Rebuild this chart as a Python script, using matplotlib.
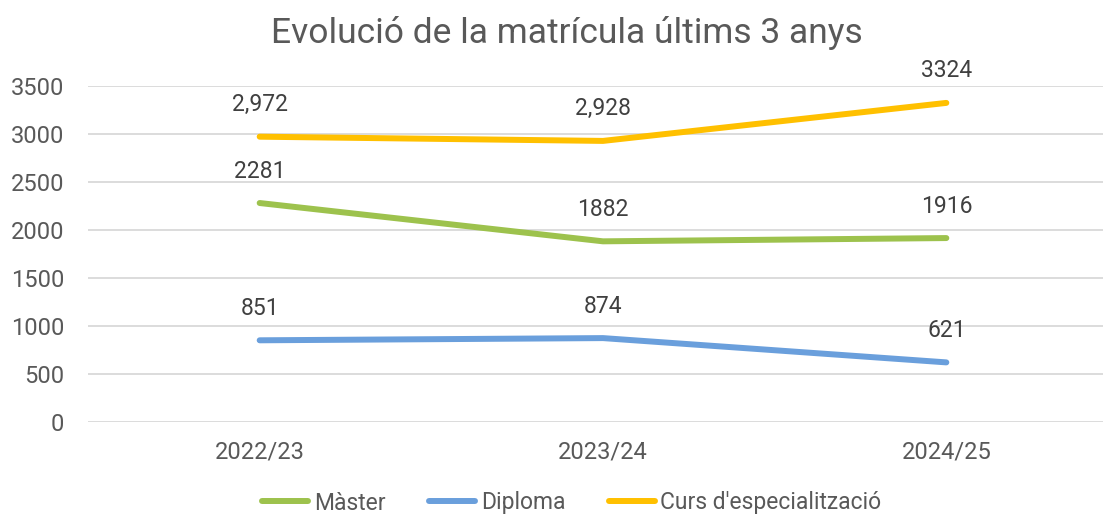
import matplotlib
matplotlib.use("Agg")
import matplotlib.pyplot as plt

# dades
cursos = ["2022/23", "2023/24", "2024/25"]
master = [2281, 1882, 1916]
diploma = [851, 874, 621]
especialitzacio = [2972, 2928, 3324]
etiquetes_master = ["2281", "1882", "1916"]
etiquetes_diploma = ["851", "874", "621"]
etiquetes_especialitzacio = ["2,972", "2,928", "3324"]
ticks_y = [0, 500, 1000, 1500, 2000, 2500, 3000, 3500]

plt.rcParams['font.family'] = ['Roboto', 'DejaVu Sans']
gris = '#595959'

fig = plt.figure(figsize=(11.03, 5.14), dpi=100)
ax = fig.add_axes([88 / 1103, 92 / 514, 1030 / 1103, 336 / 514])

x = list(range(len(cursos)))
series = [
    (master, etiquetes_master, '#9DC24D', 'Màster'),
    (diploma, etiquetes_diploma, '#6A9FDC', 'Diploma'),
    (especialitzacio, etiquetes_especialitzacio, '#FFC000', "Curs d'especialització"),
]
for valors, etiquetes, color, nom in series:
    ax.plot(x, valors, color=color, linewidth=4.3, solid_capstyle='round', label=nom, zorder=3)
    for xi, v, t in zip(x, valors, etiquetes):
        ax.annotate(t, (xi, v), xytext=(0, 23), textcoords='offset points',
                    ha='center', va='center', fontsize=16.5, color='#404040')

ax.set_xlim(-0.5, 2.5)
ax.set_ylim(0, 3500)
ax.set_xticks(x)
ax.set_xticklabels(cursos)
ax.set_yticks(ticks_y)
ax.tick_params(axis='both', length=0, labelsize=17, colors=gris)
ax.tick_params(axis='x', pad=13)
ax.tick_params(axis='y', pad=17)
ax.grid(axis='y', color='#D9D9D9', linewidth=1.3)
ax.set_axisbelow(True)
for s in ax.spines.values():
    s.set_visible(False)

fig.text(567 / 1103, 1 - 33 / 514, 'Evolució de la matrícula últims 3 anys',
         ha='center', va='center', fontsize=25.5, color=gris)

fig.legend(loc='center', bbox_to_anchor=(572 / 1103, 1 - 503 / 514), ncol=3,
           frameon=False, fontsize=16.5, labelcolor=gris, handlelength=2.0,
           handletextpad=0.25, columnspacing=1.9)

fig.savefig('out.png', dpi=100)
